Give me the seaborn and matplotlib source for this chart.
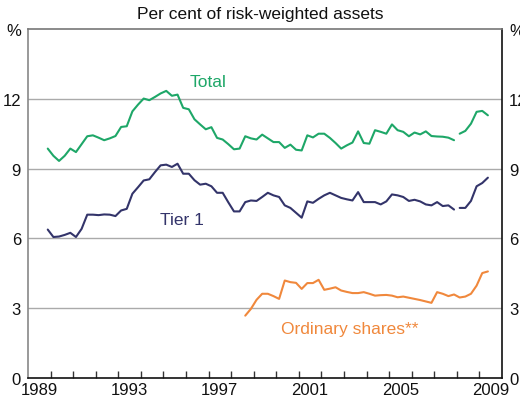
import numpy as np
import pandas as pd
import matplotlib
matplotlib.use("Agg")
import matplotlib.pyplot as plt
import seaborn as sns

# Quarterly observations, Q4 1989 .. Q2 2009 (79 quarters); break in series after Q4 2007
start_year = 1989.875
total_pre = [9.86, 9.55, 9.33, 9.55, 9.86, 9.71, 10.05, 10.39, 10.43, 10.33,
             10.22, 10.30, 10.40, 10.79, 10.82, 11.46, 11.75, 12.01, 11.94, 12.08,
             12.23, 12.34, 12.13, 12.18, 11.61, 11.55, 11.12, 10.90, 10.69, 10.78,
             10.32, 10.25, 10.05, 9.83, 9.86, 10.39, 10.30, 10.25, 10.46, 10.30,
             10.14, 10.14, 9.89, 10.03, 9.81, 9.78, 10.43, 10.34, 10.50, 10.50,
             10.32, 10.10, 9.86, 10.00, 10.12, 10.60, 10.10, 10.07, 10.65, 10.58,
             10.50, 10.90, 10.65, 10.58, 10.39, 10.55, 10.47, 10.60, 10.40, 10.38,
             10.37, 10.33, 10.22]
total_post = [10.50, 10.62, 10.93, 11.44, 11.48, 11.29]

tier1_pre = [6.38, 6.06, 6.08, 6.15, 6.24, 6.06, 6.41, 7.02, 7.02, 7.00,
             7.03, 7.02, 6.96, 7.20, 7.27, 7.92, 8.20, 8.49, 8.54, 8.85,
             9.14, 9.17, 9.07, 9.21, 8.78, 8.78, 8.50, 8.31, 8.35, 8.24,
             7.96, 7.96, 7.55, 7.16, 7.16, 7.56, 7.63, 7.61, 7.78, 7.96,
             7.85, 7.78, 7.42, 7.31, 7.10, 6.89, 7.59, 7.53, 7.70, 7.85,
             7.96, 7.85, 7.74, 7.68, 7.63, 7.99, 7.56, 7.56, 7.56, 7.46,
             7.59, 7.89, 7.85, 7.78, 7.61, 7.66, 7.59, 7.46, 7.42, 7.56,
             7.39, 7.42, 7.24]
tier1_post = [7.31, 7.31, 7.61, 8.24, 8.38, 8.61]

# Ordinary shares: Q3 1998 .. Q2 2009 (starts at quarter index 35)
ord_start_index = 35
ordinary = [2.68, 2.97, 3.36, 3.62, 3.62, 3.52, 3.40, 4.19, 4.12, 4.09,
            3.83, 4.08, 4.08, 4.22, 3.79, 3.84, 3.90, 3.76, 3.70, 3.65,
            3.65, 3.69, 3.62, 3.54, 3.56, 3.57, 3.54, 3.47, 3.50, 3.45,
            3.40, 3.35, 3.29, 3.23, 3.69, 3.62, 3.52, 3.59, 3.46, 3.50,
            3.62, 3.97, 4.51, 4.58]

year_labels = ["1989", "1993", "1997", "2001", "2005", "2009"]
y_labels = ["0", "3", "6", "9", "12", "%"]

colors = {"Total": "#1ea768", "Tier 1": "#33346a", "Ordinary shares**": "#f0883c"}

rows = []
def add(series, seg, start_idx, vals):
    for k, v in enumerate(vals):
        rows.append({"t": start_year + 0.25 * (start_idx + k), "value": v,
                     "series": series, "seg": seg})

add("Total", 0, 0, total_pre)
add("Total", 1, len(total_pre), total_post)
add("Tier 1", 0, 0, tier1_pre)
add("Tier 1", 1, len(tier1_pre), tier1_post)
add("Ordinary shares**", 0, ord_start_index, ordinary)
df = pd.DataFrame(rows)

sns.set_theme(style="white")
plt.rcParams["font.family"] = ["Liberation Sans", "DejaVu Sans"]

fig = plt.figure(figsize=(5.2, 4.06), dpi=100)
ax = fig.add_axes([28 / 520, 27 / 406, 474 / 520, 349 / 406])

for name in ["Total", "Tier 1", "Ordinary shares**"]:
    sub = df[df["series"] == name]
    sns.lineplot(data=sub, x="t", y="value", units="seg", estimator=None,
                 color=colors[name], linewidth=1.5, ax=ax, legend=False)

ax.set_xlim(1989, 2010)
ax.set_ylim(0, 15)
ax.set_xlabel("")
ax.set_ylabel("")

ax.set_yticks([0, 3, 6, 9, 12, 15])
ax.set_yticklabels(y_labels)
ax.tick_params(axis="y", length=0, labelsize=12, pad=5, labelleft=True,
               labelright=True, colors="#111111")
for yv in [3, 6, 9, 12]:
    ax.axhline(yv, color="#aaaaaa", linewidth=1.0, zorder=0)

ax.set_xticks([1989.5 + 4 * k for k in range(6)])
ax.set_xticklabels(year_labels)
ax.set_xticks(list(range(1990, 2010)), minor=True)
ax.tick_params(axis="x", which="major", length=0, labelsize=12, pad=3, colors="#111111")
ax.tick_params(axis="x", which="minor", direction="in", length=5, width=1,
               color="#333333", bottom=True)

ax.spines["left"].set_color("#888888")
ax.spines["top"].set_color("#777777")
ax.spines["bottom"].set_color("#111111")
ax.spines["right"].set_color("#111111")
for s in ax.spines.values():
    s.set_linewidth(1.2)

ax.text(1996.97, 12.74, "Total", color=colors["Total"], fontsize=12.5,
        ha="center", va="center")
ax.text(1995.82, 6.8, "Tier 1", color=colors["Tier 1"], fontsize=12.5,
        ha="center", va="center")
ax.text(2003.27, 2.11, "Ordinary shares**", color=colors["Ordinary shares**"],
        fontsize=12.5, ha="center", va="center")

fig.text(0.5, 1 - 14 / 406, "Per cent of risk-weighted assets", ha="center",
         va="center", fontsize=12.5, color="#111111")

fig.savefig("out.png", dpi=100)
